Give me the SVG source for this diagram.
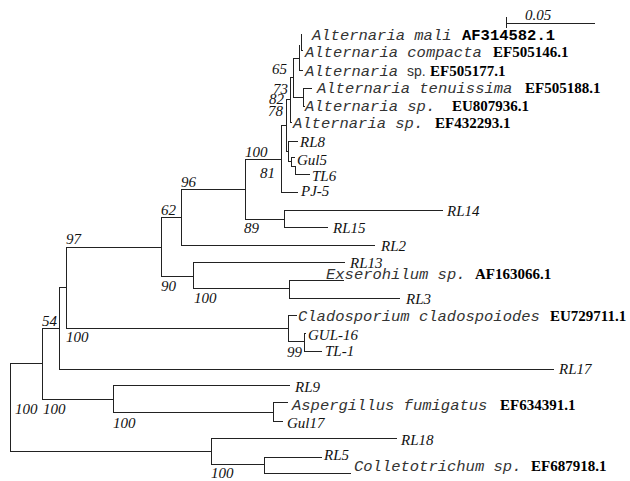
<svg xmlns="http://www.w3.org/2000/svg" width="630" height="481" viewBox="0 0 630 481">
<style>
.br{fill:none;stroke:#222;stroke-width:1;shape-rendering:crispEdges}
.lab{font-family:"Liberation Serif","Times New Roman",serif;font-style:italic;font-size:15px;fill:#111}
.bs{font-family:"Liberation Serif","Times New Roman",serif;font-style:italic;font-size:15px;fill:#111}
.sp{font-family:"Liberation Mono","Courier New",monospace;font-style:italic;font-size:15.5px;fill:#333}
.acc{font-family:"Liberation Serif","Times New Roman",serif;font-weight:bold;font-style:normal;font-size:15px;fill:#000}
.accm{font-family:"Liberation Mono","Courier New",monospace;font-weight:bold;font-style:normal;font-size:15.5px;fill:#000}
.sans{font-family:"Liberation Sans",Arial,sans-serif;font-style:normal;font-size:14px;fill:#333}
</style>
<rect width="630" height="481" fill="#fff"/>
<g id="connectors">
<path class="br" d="M301 34V50M301 50H303"/>
<path class="br" d="M299 45V70M299 70H303"/>
<path class="br" d="M293 58V97M293 58H299M293 97H303"/>
<path class="br" d="M303 88V106M303 88H312M303 106H305"/>
<path class="br" d="M290 77V122M290 77H293M290 122H292"/>
<path class="br" d="M286 99V151M286 99H290M286 151H288"/>
<path class="br" d="M288 141V161M288 141H298M288 161H291"/>
<path class="br" d="M291 157V166M291 157H295M291 166H295V174H310"/>
<path class="br" d="M281 125V192M281 125H286M281 192H298"/>
<path class="br" d="M245 159V219M245 159H281M245 219H284"/>
<path class="br" d="M284 210V227M284 210H443M284 227H328"/>
<path class="br" d="M181 189V245M181 189H245M181 245H375"/>
<path class="br" d="M161 217V276M161 217H181M161 276H193"/>
<path class="br" d="M193 262V288M193 262H345M193 288H289"/>
<path class="br" d="M289 280V298M289 280H344M289 298H400"/>
<path class="br" d="M66 247V328M66 247H161M66 328H288"/>
<path class="br" d="M288 315V341M288 315H297M288 341H304"/>
<path class="br" d="M304 333V351M304 333H306M304 351H322"/>
<path class="br" d="M59 287V369M59 287H66M59 369H554"/>
<path class="br" d="M42 328V399M42 328H59M42 399H113"/>
<path class="br" d="M113 385V412M113 385H290M113 412H273"/>
<path class="br" d="M273 402V421M273 402H288M273 421H283"/>
<path class="br" d="M10 363V451M10 363H42M10 451H211"/>
<path class="br" d="M211 438V464M211 438H397M211 464H264"/>
<path class="br" d="M264 457V473M264 457H322M264 473H351"/>
</g>
<g id="scalebar">
<path class="br" d="M506 23H595M506 17V28"/>
<text class="bs" x="525" y="20">0.05</text>
</g>
<g id="leaf-AF314582"><text x="312" y="40"><tspan class="sp">Alternaria mali</tspan><tspan class="accm" x="462">AF314582.1</tspan></text></g>
<g id="leaf-EF505146"><text x="305" y="57"><tspan class="sp">Alternaria compacta</tspan><tspan class="acc" x="493">EF505146.1</tspan></text></g>
<g id="leaf-EF505177"><text x="305" y="76"><tspan class="sp">Alternaria</tspan><tspan class="sans" x="407">sp.</tspan><tspan class="acc" x="430">EF505177.1</tspan></text></g>
<g id="leaf-EF505188"><text x="317" y="93"><tspan class="sp">Alternaria tenuissima</tspan><tspan class="acc" x="525">EF505188.1</tspan></text></g>
<g id="leaf-EU807936"><text x="305" y="111"><tspan class="sp">Alternaria sp.</tspan><tspan class="acc" x="452">EU807936.1</tspan></text></g>
<g id="leaf-EF432293"><text x="293" y="128"><tspan class="sp">Alternaria sp.</tspan><tspan class="acc" x="435">EF432293.1</tspan></text></g>
<g id="leaf-RL8"><text class="lab" x="300" y="147">RL8</text></g>
<g id="leaf-Gul5"><text class="lab" x="297" y="165">Gul5</text></g>
<g id="leaf-TL6"><text class="lab" x="312" y="181">TL6</text></g>
<g id="leaf-PJ5"><text class="lab" x="301" y="196">PJ-5</text></g>
<g id="leaf-RL14"><text class="lab" x="447" y="216">RL14</text></g>
<g id="leaf-RL15"><text class="lab" x="333" y="233">RL15</text></g>
<g id="leaf-RL2"><text class="lab" x="381" y="251">RL2</text></g>
<g id="leaf-RL13"><text class="lab" x="350" y="268">RL13</text></g>
<g id="leaf-AF163066"><text x="326" y="279"><tspan class="sp">Exserohilum sp.</tspan><tspan class="acc" x="475">AF163066.1</tspan></text></g>
<g id="leaf-RL3"><text class="lab" x="406" y="304">RL3</text></g>
<g id="leaf-EU729711"><text x="298" y="321"><tspan class="sp">Cladosporium cladospoiodes</tspan><tspan class="acc" x="550">EU729711.1</tspan></text></g>
<g id="leaf-GUL16"><text class="lab" x="308" y="340">GUL-16</text></g>
<g id="leaf-TL1"><text class="lab" x="325" y="356">TL-1</text></g>
<g id="leaf-RL17"><text class="lab" x="559" y="374">RL17</text></g>
<g id="leaf-RL9"><text class="lab" x="295" y="392">RL9</text></g>
<g id="leaf-EF634391"><text x="292" y="410"><tspan class="sp">Aspergillus fumigatus</tspan><tspan class="acc" x="500">EF634391.1</tspan></text></g>
<g id="leaf-Gul17"><text class="lab" x="287" y="428">Gul17</text></g>
<g id="leaf-RL18"><text class="lab" x="401" y="445">RL18</text></g>
<g id="leaf-RL5"><text class="lab" x="324" y="460">RL5</text></g>
<g id="leaf-EF687918"><text x="354" y="471"><tspan class="sp">Colletotrichum sp.</tspan><tspan class="acc" x="531">EF687918.1</tspan></text></g>
<g id="bootstrap">
<text class="bs" x="272" y="74">65</text>
<text class="bs" x="273" y="94">73</text>
<text class="bs" x="269" y="104">82</text>
<text class="bs" x="268" y="116">78</text>
<text class="bs" x="245" y="157">100</text>
<text class="bs" x="260" y="178">81</text>
<text class="bs" x="181" y="187">96</text>
<text class="bs" x="161" y="215">62</text>
<text class="bs" x="244" y="233">89</text>
<text class="bs" x="66" y="244">97</text>
<text class="bs" x="161" y="291">90</text>
<text class="bs" x="194" y="303">100</text>
<text class="bs" x="42" y="326">54</text>
<text class="bs" x="66" y="342">100</text>
<text class="bs" x="287" y="357">99</text>
<text class="bs" x="15" y="414">100</text>
<text class="bs" x="43" y="414">100</text>
<text class="bs" x="113" y="428">100</text>
<text class="bs" x="211" y="478">100</text>
</g>
</svg>
